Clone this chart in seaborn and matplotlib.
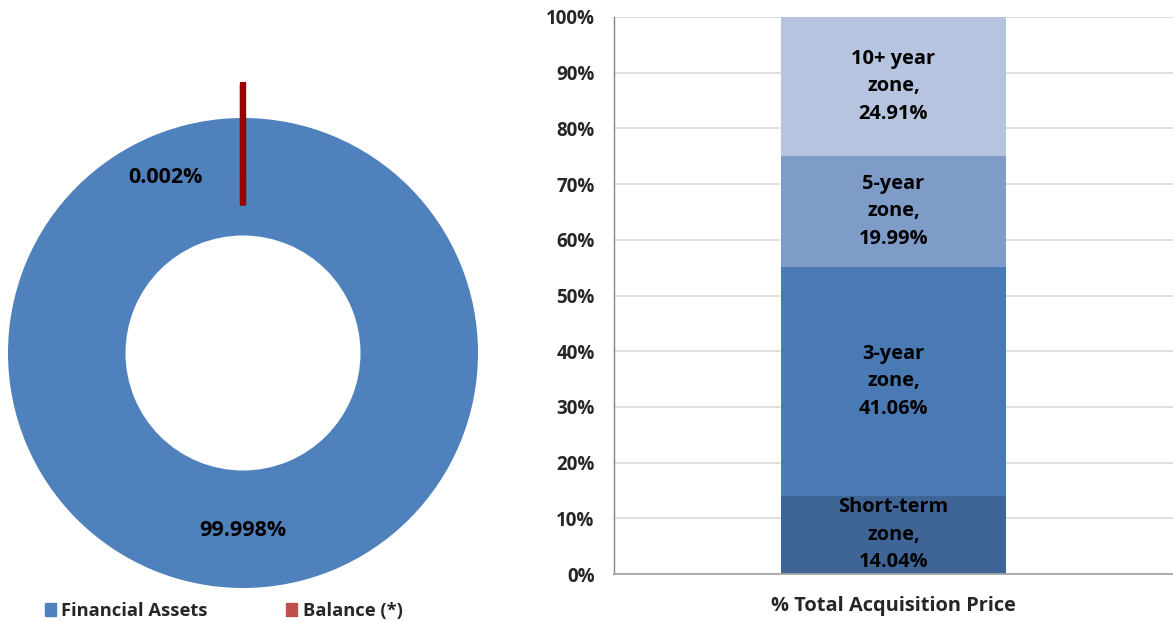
import numpy as np
import pandas as pd
import matplotlib
matplotlib.use("Agg")
import matplotlib.pyplot as plt
import seaborn as sns

# ---- data ----
donut_labels = ["Financial Assets", "Balance (*)"]
donut_values = [99.998, 0.002]
donut_text = ["99.998%", "0.002%"]

zones = ["Short-term\nzone,\n14.04%", "3-year\nzone,\n41.06%", "5-year\nzone,\n19.99%", "10+ year\nzone,\n24.91%"]
zone_values = [14.04, 41.06, 19.99, 24.91]
category = ["% Total Acquisition Price"]
yticks = [0, 10, 20, 30, 40, 50, 60, 70, 80, 90, 100]

donut_colors = ["#4F81BD", "#C0504D"]
zone_colors = ["#3F6597", "#4A7AB4", "#7F9CC9", "#B6C4E0"]

sns.set_style("white")
plt.rcParams["font.family"] = ["Open Sans", "DejaVu Sans"]
plt.rcParams["font.weight"] = "bold"

W, H = 1173, 621
fig = plt.figure(figsize=(W / 100, H / 100), dpi=100)

# ---- donut ----
ax1 = fig.add_axes([8 / W, 33 / H, 470 / W, 470 / H])
wedges, _ = ax1.pie(donut_values, colors=donut_colors, startangle=90, counterclock=False,
                    radius=1, explode=[0, 0.14], wedgeprops=dict(width=0.5))
wedges[0].set_edgecolor("none")
wedges[1].set_edgecolor("#990000")
wedges[1].set_linewidth(4.5)
wedges[1].set_clip_on(False)
ax1.set_xlim(-1, 1)
ax1.set_ylim(-1, 1)
ax1.set_aspect("equal")
ax1.axis("off")
ax1.text(0.0, -0.755, donut_text[0], ha="center", va="center", fontsize=15.5, fontweight="bold", color="black")
ax1.text(-0.33, 0.745, donut_text[1], ha="center", va="center", fontsize=15.5, fontweight="bold", color="black")

# legend
leg = fig.legend(handles=[plt.Rectangle((0, 0), 1, 1, color=c) for c in donut_colors],
                 labels=donut_labels, loc="center left", bbox_to_anchor=(28 / W, 1 - 611 / H),
                 ncol=2, frameon=False, handlelength=0.6, handleheight=0.7, handletextpad=0.3,
                 columnspacing=4.3, prop=dict(size=13.2, weight="bold"))

# ---- stacked bar ----
ax2 = fig.add_axes([614 / W, 47 / H, 559 / W, 557 / H])
cum = np.cumsum(zone_values)
for i in range(len(zone_values) - 1, -1, -1):
    df = pd.DataFrame({"cat": category, "val": [cum[i]]})
    sns.barplot(data=df, x="cat", y="val", color=zone_colors[i], saturation=1, width=0.403,
                ax=ax2, zorder=2, linewidth=0)
for i in range(len(zone_values)):
    mid = cum[i] - zone_values[i] / 2
    ax2.text(0, mid, zones[i], ha="center", va="center", fontsize=14.4, fontweight="bold",
             color="black", linespacing=1.5, zorder=3)

ax2.set_xlim(-0.5, 0.5)
ax2.set_ylim(0, 100)
ax2.set_yticks(yticks)
ax2.set_yticklabels([f"{v}%" for v in yticks], fontsize=13.5, fontweight="bold")
ax2.yaxis.grid(True, color="#D9D9D9", linewidth=1.2, zorder=0)
ax2.set_axisbelow(True)
ax2.set_xticks([-0.5])
ax2.set_xticklabels([""])
ax2.set_xlabel(category[0], fontsize=14.4, fontweight="bold", labelpad=9)
ax2.set_ylabel("")
for s in ["top", "right"]:
    ax2.spines[s].set_visible(False)
ax2.spines["left"].set_color("#868686")
ax2.spines["bottom"].set_color("#A6A6A6")
ax2.spines["left"].set_linewidth(1)
ax2.spines["bottom"].set_linewidth(1.3)
ax2.tick_params(axis="y", length=6, color="#868686", width=1, pad=8)
ax2.tick_params(axis="x", length=7, color="#868686", width=1, direction="out", pad=0)

fig.savefig("out.png", dpi=100)
